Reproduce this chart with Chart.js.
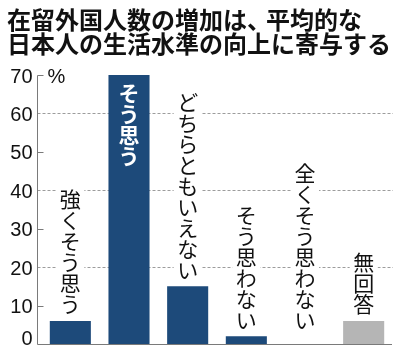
<!DOCTYPE html>
<html lang="ja">
<head>
<meta charset="utf-8">
<script src="https://cdn.jsdelivr.net/npm/chart.js@4.4.1/dist/chart.umd.min.js"></script>
<style>
  html, body { margin: 0; padding: 0; background: #fff; }
  #wrap { position: relative; width: 400px; height: 349px; overflow: hidden; }
  #title {
    position: absolute; left: 7px; top: 7px; z-index: 2;
    font-family: "Noto Sans CJK JP", sans-serif; font-weight: 700;
    font-size: 24px; line-height: 24px; color: #111; white-space: nowrap;
  }
  #title .p { margin-right: -5px; }
  canvas { position: absolute; left: 0; top: 0; }
</style>
</head>
<body>
<div id="wrap">
  <div id="title">在留外国人数の増加は<span class="p">、</span>平均的な<br>日本人の生活水準の向上に寄与する</div>
  <canvas id="chart" width="400" height="349"></canvas>
</div>
<script>
(function () {
  'use strict';

  // 回答の選択肢と割合(%)
  const categories = ['強くそう思う', 'そう思う', 'どちらともいえない', 'そう思わない', '全くそう思わない', '無回答'];
  const values = [6, 70, 15, 2, 0, 6];
  const yTicks = [0, 10, 20, 30, 40, 50, 60, 70];
  const unitLabel = '%';

  const NAVY = '#1d4a7a';
  const GRAY = '#b5b5b5';
  const AXIS = '#7a7a7a';
  const GRID = '#9c9c9c';
  const JP = '"Noto Sans CJK JP", sans-serif';

  // 縦書きラベルの位置を計算
  function labelBox(chart, i) {
    const x = chart.scales.x.getPixelForValue(i);
    const y = chart.scales.y;
    const step = 21;
    const n = Array.from(categories[i]).length;
    const h = n * step;
    if (values[i] > 50) {
      const top = y.getPixelForValue(values[i]) + 8;
      return { x, top, h, step, inside: true };
    }
    const bottom = y.getPixelForValue(Math.max(values[i], 2)) - 6;
    return { x, top: bottom - h, h, step, inside: false };
  }

  const axisPlugin = {
    id: 'axisDeco',
    beforeDatasetsDraw(chart) {
      const { ctx, chartArea } = chart;
      const y = chart.scales.y;
      const ax = chartArea.left - 3.5;
      ctx.save();
      ctx.lineWidth = 1;
      // 点線グリッド (20, 40, 60)
      ctx.strokeStyle = GRID;
      ctx.setLineDash([3, 2]);
      yTicks.forEach(v => {
        if (v === 0 || v % 20 !== 0) return;
        const py = Math.round(y.getPixelForValue(v)) + 0.5;
        ctx.beginPath(); ctx.moveTo(ax, py); ctx.lineTo(chartArea.right, py); ctx.stroke();
      });
      ctx.setLineDash([]);
      // ラベル背後の白抜き
      ctx.fillStyle = '#fff';
      categories.forEach((c, i) => {
        const b = labelBox(chart, i);
        if (b.inside) return;
        ctx.fillRect(b.x - 14, b.top - 4, 28, b.h + 8);
      });
      // 軸線と目盛り
      ctx.strokeStyle = AXIS;
      const top = Math.round(y.getPixelForValue(yTicks[yTicks.length - 1])) + 0.5;
      const base = Math.round(y.getPixelForValue(0)) + 0.5;
      ctx.beginPath(); ctx.moveTo(ax, top); ctx.lineTo(ax, base); ctx.lineTo(chartArea.right - 1, base); ctx.stroke();
      yTicks.forEach(v => {
        if (v % 20 === 0) return;
        const py = Math.round(y.getPixelForValue(v)) + 0.5;
        ctx.beginPath(); ctx.moveTo(ax, py); ctx.lineTo(ax + 6, py); ctx.stroke();
      });
      // 目盛りラベル
      ctx.fillStyle = '#111';
      ctx.font = '20px "Liberation Sans", Arial, sans-serif';
      ctx.textAlign = 'right';
      ctx.textBaseline = 'middle';
      yTicks.forEach(v => {
        let py = y.getPixelForValue(v) + 2;
        if (v === 0) py -= 7;
        ctx.fillText(String(v), ax - 5, py);
      });
      ctx.textAlign = 'left';
      ctx.fillText(unitLabel, ax + 10, y.getPixelForValue(yTicks[yTicks.length - 1]) + 2);
      ctx.restore();
    },
    afterDatasetsDraw(chart) {
      const { ctx } = chart;
      ctx.save();
      ctx.textAlign = 'center';
      ctx.textBaseline = 'middle';
      categories.forEach((c, i) => {
        const b = labelBox(chart, i);
        ctx.fillStyle = b.inside ? '#fff' : '#111';
        ctx.font = (b.inside ? '700 ' : '400 ') + '21px ' + JP;
        Array.from(c).forEach((ch, k) => {
          ctx.fillText(ch, b.x, b.top + b.step * k + b.step / 2);
        });
      });
      ctx.restore();
    }
  };

  new Chart(document.getElementById('chart'), {
    type: 'bar',
    data: {
      labels: categories,
      datasets: [{
        data: values,
        backgroundColor: categories.map(c => c === '無回答' ? GRAY : NAVY),
        borderWidth: 0,
        barPercentage: 0.7,
        categoryPercentage: 1,
      }],
    },
    options: {
      responsive: false,
      animation: false,
      events: [],
      layout: { padding: { left: 41, right: 7, top: 75, bottom: 5 } },
      plugins: { legend: { display: false }, tooltip: { enabled: false }, title: { display: false } },
      scales: {
        x: { display: false },
        y: { display: false, min: 0, max: 70, ticks: { stepSize: 10 } },
      },
    },
    plugins: [axisPlugin],
  });
})();
</script>
</body>
</html>
